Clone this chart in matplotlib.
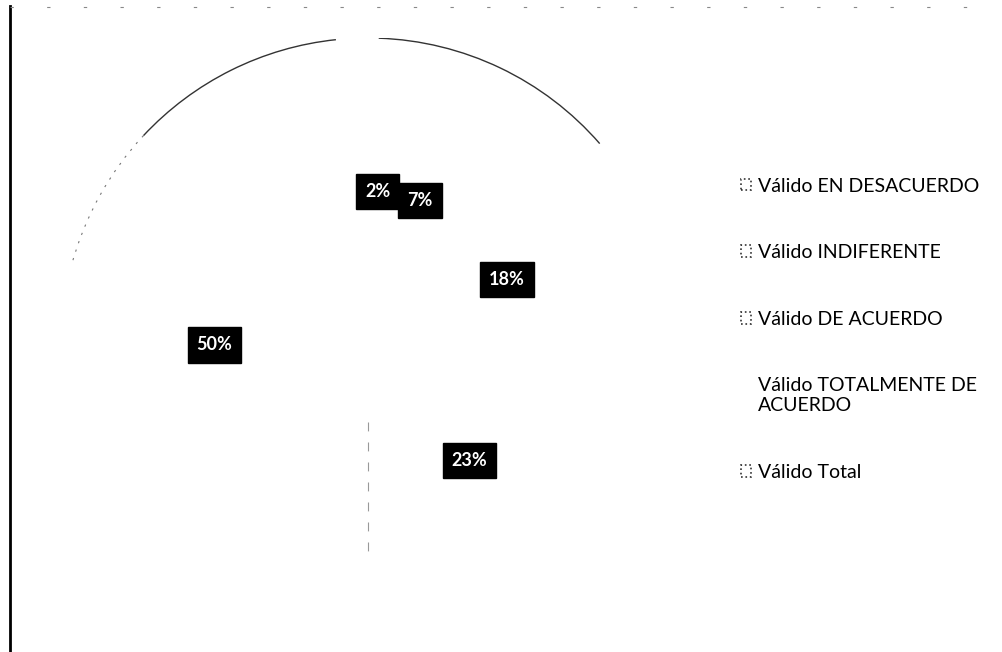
import matplotlib.pyplot as plt
from matplotlib.patches import Arc, Patch
from matplotlib.lines import Line2D
import numpy as np

categorias = ['Válido EN DESACUERDO', 'Válido INDIFERENTE', 'Válido DE ACUERDO',
              'Válido TOTALMENTE DE\nACUERDO', 'Válido Total']
porcentajes = [2, 7, 18, 23, 50]

plt.rcParams['font.family'] = ['Lato', 'DejaVu Sans']

fig = plt.figure(figsize=(10.02, 6.52), dpi=100)
ax = fig.add_axes([61 / 1002, 0, 614 / 1002, 614 / 652])

wedges, texts, autotexts = ax.pie(
    porcentajes, startangle=90, counterclock=False, radius=1,
    colors=['white'] * len(porcentajes),
    wedgeprops={'edgecolor': 'none'},
    autopct='%1.0f%%', pctdistance=0.5,
    textprops={'color': 'white', 'fontsize': 13, 'fontweight': 'bold'})

for t in autotexts:
    t.set_bbox(dict(facecolor='black', edgecolor='black', boxstyle='square,pad=0.5'))

# contorno exterior (solo visible arriba, como en el escaneo)
c = wedges[0].center
r = wedges[0].r
ax.add_patch(Arc(c, 2 * r, 2 * r, theta1=41, theta2=88, color='#333333', lw=1.0))
ax.add_patch(Arc(c, 2 * r, 2 * r, theta1=96, theta2=137, color='#333333', lw=1.0))
ax.add_patch(Arc(c, 2 * r, 2 * r, theta1=137, theta2=165, color='#777777', lw=0.8,
                 linestyle=(0, (2, 6))))

# borde entre 23% y 50%
ang = np.deg2rad(wedges[-1].theta2)
ax.plot([c[0] + 0.25 * r * np.cos(ang), c[0] + 0.7 * r * np.cos(ang)],
        [c[1] + 0.25 * r * np.sin(ang), c[1] + 0.7 * r * np.sin(ang)],
        color='#999999', lw=0.8, linestyle=(0, (8, 10)))

ax.set_xlim(-1, 1)
ax.set_ylim(-1, 1)
ax.axis('off')

handles = [Patch(facecolor='white', edgecolor='#333333', linestyle=':', lw=1.2)
           for _ in categorias]
handles[3] = Patch(facecolor='white', edgecolor='white')
fig.legend(handles, categorias, loc='upper left', bbox_to_anchor=(723 / 1002, 1 - 160 / 652),
           frameon=False, fontsize=14, handlelength=0.55, handleheight=0.55,
           handletextpad=0.35, labelspacing=2.55)

# marco de la figura
fig.add_artist(Line2D([10 / 1002, 10 / 1002], [0, 1 - 6 / 652], transform=fig.transFigure,
                      color='black', lw=2))
fig.add_artist(Line2D([10 / 1002, 0.995], [1 - 7 / 652, 1 - 7 / 652], transform=fig.transFigure,
                      color='#888888', lw=0.8, linestyle=(0, (3, 30))))

fig.savefig('out.png', dpi=100)
